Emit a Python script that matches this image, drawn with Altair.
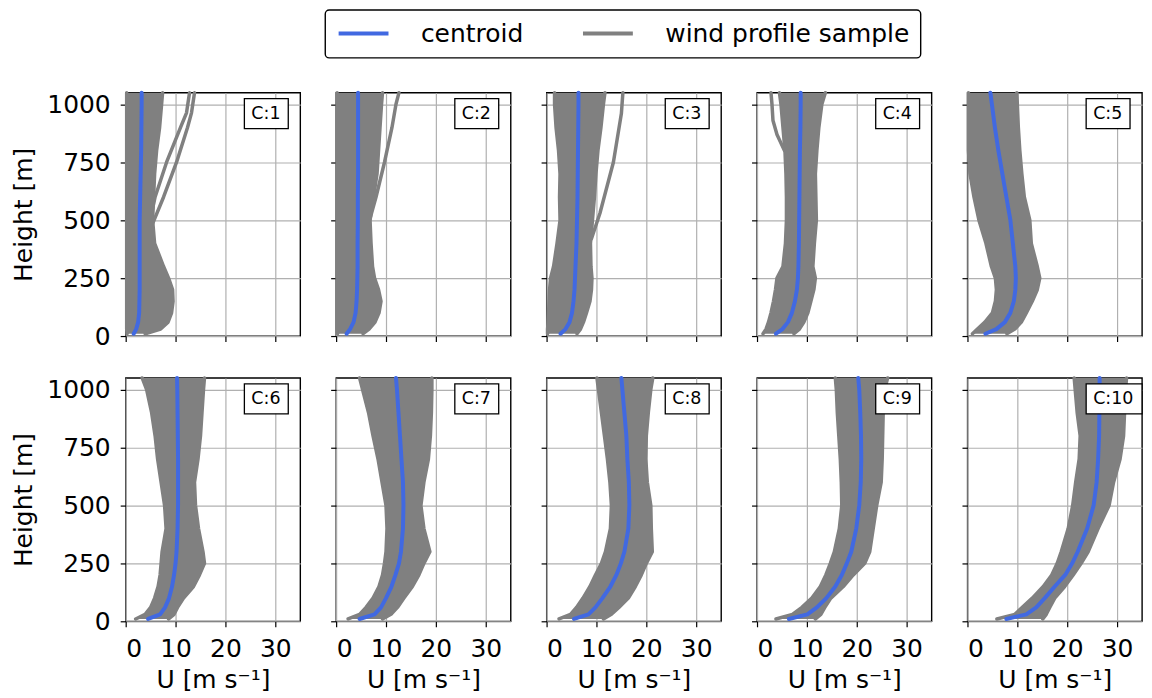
import altair as alt
import pandas as pd

FONT = "DejaVu Sans"

# heights [m] at which profiles were read
HEIGHTS = [10, 30, 60, 100, 150, 200, 250, 300, 400, 500, 600, 700, 800, 900, 1000, 1050]
PANEL_LABELS = ["C:1", "C:2", "C:3", "C:4", "C:5", "C:6", "C:7", "C:8", "C:9", "C:10"]
KINDS = ["centroid", "wind profile sample"]
KIND_COLORS = ["#4169e1", "#808080"]
X_TICKS = [0, 10, 20, 30]
Y_TICKS = [0, 250, 500, 750, 1000]

# centroid wind speed per cluster [m/s]
CENTROID = [
    [1.6, 2.1, 2.5, 2.7, 2.75, 2.8, 2.8, 2.8, 2.8, 2.8, 2.9, 3.0, 3.1, 3.15, 3.2, 3.2],
    [2.1, 2.8, 3.5, 3.9, 4.1, 4.2, 4.25, 4.3, 4.3, 4.35, 4.35, 4.4, 4.4, 4.4, 4.4, 4.4],
    [2.8, 3.8, 4.6, 5.1, 5.4, 5.6, 5.7, 5.8, 6.0, 6.1, 6.2, 6.25, 6.3, 6.35, 6.4, 6.4],
    [3.8, 5.1, 6.2, 7.0, 7.6, 8.0, 8.2, 8.3, 8.4, 8.45, 8.5, 8.55, 8.6, 8.7, 8.75, 8.75],
    [3.6, 5.8, 7.5, 8.6, 9.3, 9.6, 9.7, 9.6, 9.1, 8.6, 7.8, 7.0, 6.2, 5.5, 4.9, 4.6],
    [4.5, 6.9, 7.9, 8.7, 9.3, 9.7, 10.0, 10.2, 10.4, 10.5, 10.5, 10.5, 10.45, 10.4, 10.35, 10.3],
    [4.7, 7.7, 9.0, 10.0, 11.1, 11.9, 12.6, 13.0, 13.4, 13.5, 13.4, 13.1, 12.8, 12.5, 12.2, 12.0],
    [5.5, 8.4, 9.8, 11.2, 12.8, 14.0, 14.9, 15.6, 16.4, 16.6, 16.5, 16.2, 16.0, 15.6, 15.2, 15.0],
    [6.4, 10.1, 12.0, 13.9, 15.7, 17.0, 18.0, 18.9, 19.9, 20.5, 20.8, 20.9, 20.85, 20.7, 20.5, 20.3],
    [7.8, 11.8, 13.8, 15.5, 17.5, 19.6, 21.0, 22.1, 24.0, 25.3, 25.9, 26.2, 26.4, 26.45, 26.5, 26.5],
]

# slowest sample profile of each cluster
SAMPLE_MIN = [
    [0.3, 0.2, 0.2, 0.2, 0.2, 0.2, 0.2, 0.2, 0.2, 0.2, 0.2, 0.2, 0.2, 0.2, 0.2, 0.2],
    [0.3, 0.2, 0.2, 0.2, 0.2, 0.2, 0.2, 0.2, 0.2, 0.2, 0.2, 0.2, 0.2, 0.2, 0.2, 0.2],
    [0.2, 0.2, 0.3, 0.4, 0.5, 0.6, 0.8, 1.4, 2.1, 2.7, 2.6, 2.7, 2.4, 1.9, 1.6, 1.6],
    [1.2, 1.8, 2.3, 2.8, 3.3, 3.7, 4.0, 5.2, 5.7, 5.9, 5.9, 5.8, 5.6, 5.2, 4.8, 4.5],
    [1.0, 2.0, 3.5, 5.0, 5.6, 5.8, 5.6, 4.8, 3.7, 2.3, 1.3, 0.5, 0.2, 0.2, 0.2, 0.2],
    [2.0, 3.9, 5.0, 5.8, 6.5, 6.9, 7.1, 7.3, 8.1, 7.8, 7.1, 6.4, 5.9, 5.2, 4.2, 3.3],
    [2.4, 4.7, 6.0, 7.4, 8.6, 9.3, 9.7, 10.0, 10.2, 10.0, 9.2, 8.4, 7.4, 6.5, 5.3, 4.7],
    [2.5, 4.8, 6.0, 7.3, 8.7, 9.8, 11.0, 11.8, 12.8, 13.0, 12.7, 12.2, 11.6, 11.0, 10.4, 10.1],
    [3.8, 7.1, 9.0, 11.0, 12.7, 13.8, 14.7, 15.5, 16.5, 17.0, 16.9, 16.7, 16.4, 16.1, 15.9, 15.7],
    [5.9, 9.5, 11.0, 13.0, 15.2, 16.9, 18.0, 18.8, 20.2, 21.1, 21.7, 22.4, 22.6, 22.0, 21.6, 21.4],
]

# fastest (regular) sample profile of each cluster
SAMPLE_MAX = [
    [3.9, 7.0, 8.5, 9.2, 9.5, 9.4, 8.6, 7.6, 5.8, 5.4, 5.6, 5.8, 6.2, 6.8, 7.2, 7.4],
    [5.4, 6.6, 7.8, 8.6, 9.0, 8.5, 7.7, 7.3, 7.0, 6.8, 7.5, 8.2, 8.5, 8.8, 9.1, 9.3],
    [6.1, 6.8, 7.4, 8.0, 8.7, 9.0, 9.1, 8.9, 8.8, 9.2, 9.6, 9.9, 10.3, 10.9, 11.4, 11.7],
    [7.4, 8.5, 9.4, 10.2, 10.8, 11.4, 11.7, 11.2, 11.5, 11.9, 11.8, 11.7, 12.0, 12.4, 13.0, 13.7],
    [7.9, 9.5, 10.8, 11.8, 13.0, 14.0, 14.5, 14.0, 12.8, 12.5, 11.4, 10.9, 10.5, 10.2, 10.0, 9.9],
    [8.6, 9.7, 10.4, 11.6, 13.6, 14.8, 15.8, 15.5, 14.6, 14.0, 13.8, 14.5, 15.0, 15.3, 15.6, 15.8],
    [9.3, 11.0, 12.3, 13.6, 15.3, 16.6, 17.6, 18.8, 17.6, 17.0, 17.6, 18.5, 18.9, 19.1, 19.2, 19.2],
    [11.4, 13.0, 14.5, 16.4, 17.8, 19.0, 20.0, 21.2, 21.0, 20.9, 20.2, 19.9, 20.0, 20.4, 20.9, 21.3],
    [11.7, 12.8, 13.6, 14.8, 17.3, 19.3, 21.6, 22.6, 23.3, 24.0, 24.9, 25.1, 25.2, 25.3, 25.6, 26.2],
    [15.1, 15.8, 16.5, 17.5, 19.5, 21.2, 22.8, 24.2, 26.2, 28.4, 29.3, 30.6, 31.3, 31.5, 31.7, 31.9],
]

# outlying sample profiles (cluster index, heights, speeds)
C1_OUT_A_H = [500, 600, 750, 900, 963, 1050]
C1_OUT_A_U = [4.9, 5.9, 8.2, 11.0, 12.2, 12.8]
C1_OUT_B_H = [480, 600, 750, 900, 963, 1050]
C1_OUT_B_U = [5.3, 7.6, 10.2, 12.4, 13.2, 13.8]
C2_OUT_H = [500, 600, 750, 900, 1000, 1050]
C2_OUT_U = [6.7, 8.0, 9.7, 11.2, 12.0, 12.6]
C3_OUT_H = [420, 530, 750, 960, 1050]
C3_OUT_U = [9.0, 10.7, 13.4, 15.0, 15.3]
C4_OUT_H = [800, 870, 930, 1000, 1050]
C4_OUT_U = [5.5, 4.0, 3.2, 3.0, 2.8]

OUTLIERS = [
    (0, C1_OUT_A_H, C1_OUT_A_U),
    (0, C1_OUT_B_H, C1_OUT_B_U),
    (1, C2_OUT_H, C2_OUT_U),
    (2, C3_OUT_H, C3_OUT_U),
    (3, C4_OUT_H, C4_OUT_U),
]

PANEL_W = 175
PANEL_H = 244

color = alt.Color(
    "kind:N",
    title=None,
    scale=alt.Scale(domain=KINDS, range=KIND_COLORS),
)
xscale = alt.Scale(domain=[0, 35], nice=False)
yscale = alt.Scale(domain=[0, 1050], nice=False)


def panel(i):
    row, col = divmod(i, 5)
    band = pd.DataFrame({"h": HEIGHTS, "lo": SAMPLE_MIN[i], "hi": SAMPLE_MAX[i]})

    recs = []
    for name, vals in (("min", SAMPLE_MIN[i]), ("max", SAMPLE_MAX[i])):
        for k, (h, u) in enumerate(zip(HEIGHTS, vals)):
            recs.append({"line": name, "idx": k, "h": h, "u": u, "kind": KINDS[1]})
    for n, (p, hs, us) in enumerate(OUTLIERS):
        if p == i:
            for k, (h, u) in enumerate(zip(hs, us)):
                recs.append({"line": f"out{n}", "idx": k, "h": h, "u": u, "kind": KINDS[1]})
    samples = pd.DataFrame(recs)
    cen = pd.DataFrame({"h": HEIGHTS, "u": CENTROID[i], "idx": list(range(len(HEIGHTS))),
                        "kind": KINDS[0]})

    if row == 1:
        xaxis = alt.Axis(values=X_TICKS, title="U [m s⁻¹]")
    else:
        xaxis = alt.Axis(values=X_TICKS, labels=False, title=None)
    if col == 0:
        yaxis = alt.Axis(values=Y_TICKS, format="d", title="Height [m]")
    else:
        yaxis = alt.Axis(values=Y_TICKS, labels=False, title=None)

    area = alt.Chart(band).mark_area(orient="horizontal", color="#808080").encode(
        y=alt.Y("h:Q", scale=yscale, axis=yaxis),
        x=alt.X("lo:Q", scale=xscale, axis=xaxis),
        x2="hi:Q",
    )
    gray = alt.Chart(samples).mark_line(strokeWidth=3.5, strokeCap="round", strokeJoin="round").encode(
        x=alt.X("u:Q", scale=xscale, axis=xaxis),
        y=alt.Y("h:Q", scale=yscale, axis=yaxis),
        detail="line:N",
        order="idx:Q",
        color=color,
    )
    centroid = alt.Chart(cen).mark_line(strokeWidth=4, strokeCap="round", strokeJoin="round").encode(
        x=alt.X("u:Q", scale=xscale, axis=xaxis),
        y=alt.Y("h:Q", scale=yscale, axis=yaxis),
        order="idx:Q",
        color=color,
    )
    lab = pd.DataFrame({"label": [PANEL_LABELS[i]]})
    box_w = 44 if len(PANEL_LABELS[i]) <= 3 else 56
    box = alt.Chart(lab).mark_rect(fill="white", stroke="black", strokeWidth=1.3).encode(
        x=alt.value(119), x2=alt.value(119 + box_w), y=alt.value(6), y2=alt.value(36)
    )
    txt = alt.Chart(lab).mark_text(align="left", baseline="middle", font=FONT, fontSize=17.5,
                                   color="black").encode(
        x=alt.value(126), y=alt.value(21.5), text="label:N"
    )
    return alt.layer(area, gray, centroid, box, txt).properties(width=PANEL_W, height=PANEL_H)


chart = alt.concat(
    *[panel(i) for i in range(10)],
    columns=5,
    spacing={"row": 42, "column": 36},
    bounds="flush",
).properties(
    padding={"left": 3, "top": 0, "right": 0, "bottom": 0}
).configure_view(
    stroke="black", strokeWidth=1.4
).configure_axis(
    domain=False,
    grid=True,
    gridColor="#b0b0b0",
    gridWidth=1.2,
    tickColor="black",
    tickSize=5.5,
    tickWidth=1.2,
    labelFont=FONT,
    labelFontSize=25,
    labelColor="black",
    titleFont=FONT,
    titleFontSize=25,
    titleFontWeight="normal",
    titleColor="black",
).configure_axisY(
    labelPadding=10, titlePadding=10
).configure_axisX(
    labelPadding=10, titlePadding=6
).configure_legend(
    orient="none",
    legendX=200,
    legendY=-83,
    direction="horizontal",
    strokeColor="black",
    strokeWidth=1.4,
    cornerRadius=4,
    fillColor="white",
    padding=11,
    symbolType="M-1,0H4",
    symbolSize=400,
    symbolStrokeWidth=4,
    labelFont=FONT,
    labelFontSize=25,
    labelColor="black",
    labelOffset=60,
    labelLimit=400,
    columnPadding=51,
)

chart.save("out.html", embed_options={"renderer": "svg", "actions": False})
